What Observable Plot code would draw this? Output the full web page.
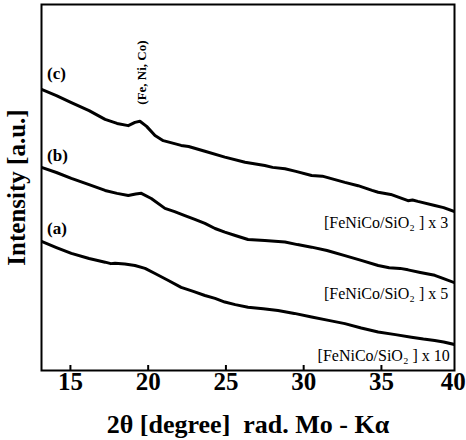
<!DOCTYPE html>
<html>
<head>
<meta charset="utf-8">
<script src="https://cdn.jsdelivr.net/npm/d3@7"></script>
<script src="https://cdn.jsdelivr.net/npm/@observablehq/plot@0.6"></script>
<style>
  html, body { margin: 0; padding: 0; background: white; overflow: hidden; }
</style>
</head>
<body>
<div id="chart"></div>
<script>
// 2θ values and intensities (arbitrary units) for the three samples
const curveC_x = [13.14, 14.1, 15.06, 16.2, 17.23, 18.0, 18.72, 19.15, 19.47, 19.9, 20.44, 20.97, 22.12, 22.6, 23.65, 24.93, 26.23, 27.5, 28.0, 28.8, 29.5, 30.51, 31.2, 32.65, 33.5, 34.4, 34.79, 35.6, 36.71, 37.0, 37.34, 38.43, 39.0, 39.7];
const curveC_y = [76.8, 75.1, 73.2, 71.0, 68.6, 67.5, 66.9, 67.8, 68.1, 66.7, 64.2, 62.8, 61.5, 61.2, 59.9, 58.3, 56.9, 56.0, 55.5, 55.1, 54.4, 53.3, 53.1, 51.4, 50.5, 49.2, 48.7, 48.1, 46.4, 46.6, 46.2, 45.1, 44.5, 43.4];

const curveB_x = [13.14, 14.1, 15.06, 16.2, 17.23, 18.0, 18.72, 19.2, 19.56, 20.2, 21.08, 21.7, 22.36, 23.0, 23.65, 24.3, 24.93, 25.6, 26.42, 27.5, 28.8, 29.6, 30.51, 31.5, 32.65, 33.7, 34.79, 35.5, 36.2, 36.71, 37.5, 38.43, 39.0, 39.7];
const curveB_y = [55.5, 54.1, 52.5, 50.8, 49.2, 48.4, 47.8, 48.2, 48.4, 47.0, 44.3, 43.4, 42.3, 41.3, 40.2, 38.8, 37.8, 36.9, 35.8, 35.5, 35.1, 34.4, 33.7, 32.8, 31.4, 30.1, 28.7, 28.1, 27.9, 27.5, 26.8, 26.0, 25.1, 24.0];

const curveA_x = [13.14, 14.1, 15.06, 16.2, 17.23, 17.6, 17.87, 18.5, 19.15, 19.8, 20.44, 21.3, 22.12, 22.9, 23.65, 24.3, 24.93, 25.6, 26.42, 27.4, 28.35, 29.4, 30.51, 31.6, 32.65, 33.7, 34.79, 35.9, 36.93, 37.7, 38.43, 39.0, 39.7];
const curveA_y = [35.3, 33.6, 32.0, 30.6, 29.6, 29.2, 29.3, 29.1, 28.7, 27.9, 26.5, 24.6, 22.7, 21.6, 20.5, 19.7, 18.7, 18.0, 17.3, 16.9, 16.4, 15.6, 14.6, 13.7, 12.8, 11.6, 10.5, 9.8, 9.1, 8.6, 8.2, 7.8, 7.1];

// Tick labels
const xTickValues = [15, 20, 25, 30, 35];
const xTickEdge = [40];
const xTickMarks = [15, 20, 25, 30, 35];

// Annotations
const sampleLabels = ["(a)", "(b)", "(c)"];
const sampleLabelX = [13.5, 13.5, 13.5];
const sampleLabelY = [38.8, 58.7, 81.1];

const factorLabels = ["[FeNiCo/SiO\u2082 ] x 10", "[FeNiCo/SiO\u2082 ] x 5", "[FeNiCo/SiO\u2082 ] x 3"];
const factorLabelX = [39.4, 39.3, 39.3];
const factorLabelY = [4.1, 21.0, 40.4];

const peakLabel = ["(Fe, Ni, Co)"];
const peakLabelX = [19.56];
const peakLabelY = [81.4];

const toRows = (xs, ys, s) => xs.map((x, i) => ({x, y: ys[i], s}));
const rows = [
  ...toRows(curveA_x, curveA_y, "a"),
  ...toRows(curveB_x, curveB_y, "b"),
  ...toRows(curveC_x, curveC_y, "c")
];
const sampleRows = sampleLabels.map((t, i) => ({t, x: sampleLabelX[i], y: sampleLabelY[i]}));
const factorRows = factorLabels.map((t, i) => ({t, x: factorLabelX[i], y: factorLabelY[i]}));
const peakRows = peakLabel.map((t, i) => ({t, x: peakLabelX[i], y: peakLabelY[i]}));

const chart = Plot.plot({
  width: 466,
  height: 440,
  marginLeft: 41,
  marginRight: 12,
  marginTop: 4,
  marginBottom: 70,
  style: {fontFamily: "'Liberation Serif', 'Times New Roman', serif", color: "black", background: "white"},
  x: {domain: [13.14, 39.7]},
  y: {domain: [0, 100]},
  marks: [
    Plot.line(rows, {x: "x", y: "y", z: "s", stroke: "black", strokeWidth: 3, strokeLinejoin: "round", clip: true}),
    Plot.frame({stroke: "black", strokeWidth: 2}),
    Plot.axisX({ticks: xTickMarks, tickSize: -5, strokeWidth: 2, tickFormat: () => "", label: null}),
    Plot.axisX({ticks: xTickValues, tickSize: 0, tickPadding: 2, fontSize: 25, fontWeight: "bold",
      label: "2\u03b8 [degree]  rad. Mo - K\u03b1", labelAnchor: "center", labelOffset: 62, labelArrow: "none"}),
    Plot.axisX({ticks: xTickEdge, tickSize: 0, tickPadding: 2, fontSize: 25, fontWeight: "bold", dx: -6, label: null}),
    Plot.axisY({ticks: [], tickSize: 0, fontSize: 25, fontWeight: "bold",
      label: "Intensity [a.u.]", labelAnchor: "center", labelOffset: 34, labelArrow: "none"}),
    Plot.text(sampleRows, {x: "x", y: "y", text: "t", textAnchor: "start", fontSize: 17, fontWeight: "bold", fill: "black"}),
    Plot.text(factorRows, {x: "x", y: "y", text: "t", textAnchor: "end", fontSize: 16, fill: "black"}),
    Plot.text(peakRows, {x: "x", y: "y", text: "t", rotate: -90, fontSize: 13, fontWeight: "bold", fill: "black"})
  ]
});
// x-axis title slightly larger than tick labels
const lbl = chart.querySelectorAll("g[aria-label='x-axis label'] text");
lbl.forEach(t => t.setAttribute("font-size", 26));
document.getElementById("chart").appendChild(chart);
</script>
</body>
</html>
